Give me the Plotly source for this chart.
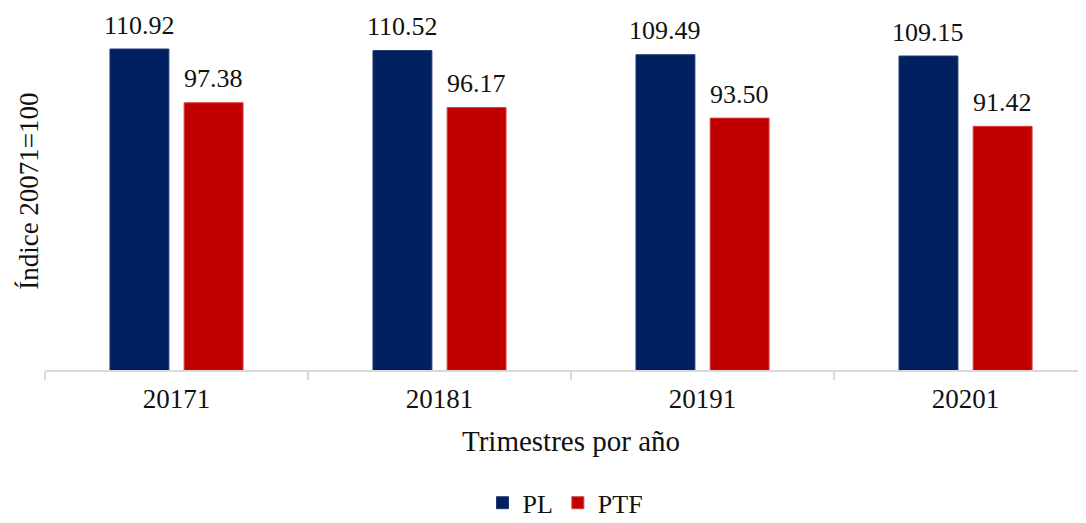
import plotly.graph_objects as go

categories = ["20171", "20181", "20191", "20201"]
pl_values = [110.92, 110.52, 109.49, 109.15]
ptf_values = [97.38, 96.17, 93.50, 91.42]

FONT = "Liberation Serif"
BAR_W = 0.224
PL_OFF = -0.253
PTF_OFF = 0.029

fig = go.Figure()
fig.add_trace(go.Bar(
    x=categories, y=pl_values, name="PL",
    marker=dict(color="#002060", line=dict(color="#1f3a73", width=1)),
    width=BAR_W, offset=PL_OFF,
))
fig.add_trace(go.Bar(
    x=categories, y=ptf_values, name="PTF",
    marker=dict(color="#C00000", line=dict(color="#d94040", width=1)),
    width=BAR_W, offset=PTF_OFF,
))

annotations = []
for i, v in enumerate(pl_values):
    annotations.append(dict(text=f"{v:.2f}", xref="x", yref="y",
                            x=i + PL_OFF + BAR_W / 2, y=v, yshift=24,
                            xanchor="center", yanchor="middle", showarrow=False,
                            font=dict(family=FONT, size=26, color="#111111")))
for i, v in enumerate(ptf_values):
    annotations.append(dict(text=f"{v:.2f}", xref="x", yref="y",
                            x=i + PTF_OFF + BAR_W / 2, y=v, yshift=24,
                            xanchor="center", yanchor="middle", showarrow=False,
                            font=dict(family=FONT, size=26, color="#111111")))
annotations += [
    dict(text="Trimestres por año", xref="x", yref="paper", x=1.5, y=-0.2,
         xanchor="center", yanchor="middle", showarrow=False,
         font=dict(family=FONT, size=29, color="#111111")),
    dict(text="Índice 20071=100", xref="paper", yref="paper", x=-0.016, y=0.5,
         xanchor="center", yanchor="middle", textangle=-90, showarrow=False,
         font=dict(family=FONT, size=27, color="#111111")),
]

fig.update_layout(
    width=1078, height=515,
    margin=dict(l=37, r=0, t=5, b=153, autoexpand=False),
    plot_bgcolor="white", paper_bgcolor="white",
    barmode="overlay",
    font=dict(family=FONT, size=22, color="#111111"),
    showlegend=True,
    legend=dict(orientation="h", x=0.5, xanchor="center", y=-0.372, yanchor="middle",
                font=dict(family=FONT, size=26), traceorder="normal"),
    xaxis=dict(
        range=[-0.5, 3.458], showline=True, linecolor="#d9d9d9", linewidth=1.5,
        ticks="outside", tickson="boundaries", ticklen=8, tickcolor="#d9d9d9", tickwidth=1.5,
        showgrid=False, tickfont=dict(family=FONT, size=27), ticklabelstandoff=4,
    ),
    yaxis=dict(range=[30, 120], showticklabels=False, showgrid=False, zeroline=False,
               showline=False),
    annotations=annotations,
)

fig.write_html("out.html")
